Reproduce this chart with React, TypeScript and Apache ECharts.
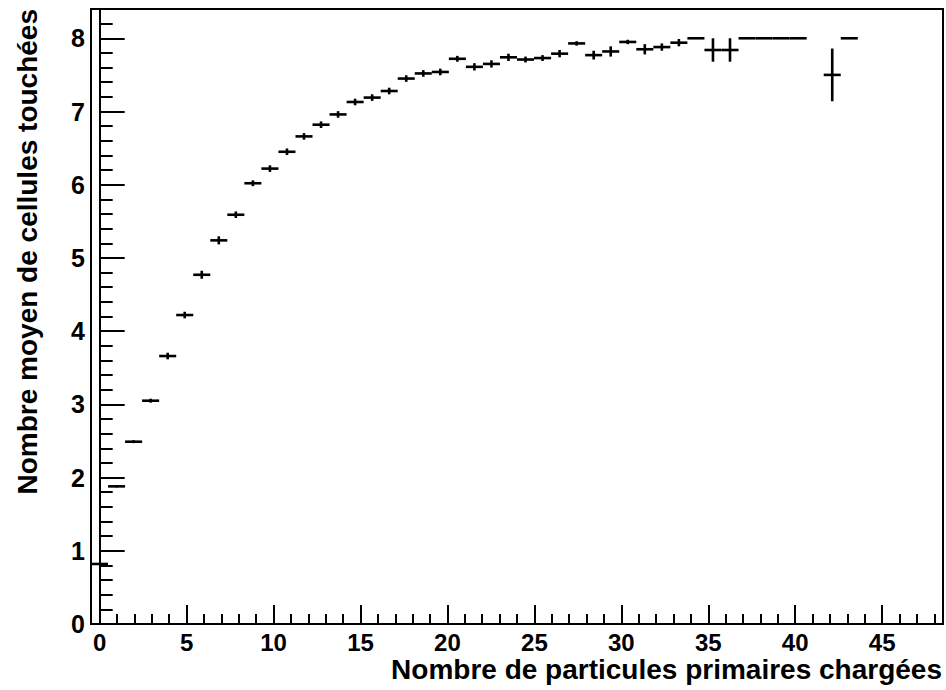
import React, { useEffect, useRef } from "react";
import * as echarts from "echarts";

// Profile histogram definition: 50 bins over [-0.5, 48.5]
const X_LOW = -0.5;
const X_HIGH = 48.5;
const N_BINS = 50;

// Mean number of hit cells per bin (null = empty bin)
const meanHits: (number | null)[] = [
  0.82, 1.88, 2.49, 3.05, 3.66, 4.22, 4.77, 5.24, 5.59, 6.02,
  6.22, 6.45, 6.66, 6.82, 6.96, 7.13, 7.19, 7.28, 7.45, 7.52,
  7.54, 7.72, 7.61, 7.65, 7.74, 7.71, 7.73, 7.79, 7.93, 7.77,
  7.82, 7.95, 7.85, 7.88, 7.94, 8.0, 7.84, 7.84, 8.0, 8.0,
  8.0, 8.0, null, 7.5, 8.0,
];

// Error on the mean per bin
const meanErrors: (number | null)[] = [
  0, 0.015, 0.02, 0.027, 0.045, 0.045, 0.055, 0.055, 0.045, 0.04,
  0.045, 0.045, 0.045, 0.045, 0.045, 0.045, 0.045, 0.045, 0.045, 0.045,
  0.045, 0.04, 0.05, 0.05, 0.05, 0.04, 0.04, 0.05, 0.03, 0.06,
  0.07, 0.03, 0.07, 0.05, 0.05, 0, 0.16, 0.16, 0, 0,
  0, 0, null, 0.36, 0,
];

const xMajorTicks = [0, 5, 10, 15, 20, 25, 30, 35, 40, 45];
const xMinorTicks = [
  1, 2, 3, 4, 6, 7, 8, 9, 11, 12, 13, 14, 16, 17, 18, 19, 21, 22, 23, 24,
  26, 27, 28, 29, 31, 32, 33, 34, 36, 37, 38, 39, 41, 42, 43, 44, 46, 47, 48,
];
const yMajorTicks = [0, 1, 2, 3, 4, 5, 6, 7, 8];
const yMinorTicks = [
  0.2, 0.4, 0.6, 0.8, 1.2, 1.4, 1.6, 1.8, 2.2, 2.4, 2.6, 2.8, 3.2, 3.4, 3.6, 3.8,
  4.2, 4.4, 4.6, 4.8, 5.2, 5.4, 5.6, 5.8, 6.2, 6.4, 6.6, 6.8, 7.2, 7.4, 7.6, 7.8, 8.2,
];

const xTitle = "Nombre de particules primaires chargées";
const yTitle = "Nombre moyen de cellules touchées";

const FONT = "'Liberation Sans', Arial, sans-serif";

export default function App() {
  const ref = useRef<HTMLDivElement>(null);

  useEffect(() => {
    if (!ref.current) return;
    const chart = echarts.init(ref.current, null, { renderer: "svg" });
    const binWidth = (X_HIGH - X_LOW) / N_BINS;
    const data: number[][] = [];
    meanHits.forEach((v, i) => {
      if (v === null) return;
      const center = X_LOW + binWidth * (i + 0.5);
      data.push([center, v, meanErrors[i] ?? 0, binWidth]);
    });

    const labelStyle = {
      fontSize: 24,
      fontWeight: "bold" as const,
      fontFamily: FONT,
      color: "#000",
    };

    chart.setOption({
      animation: false,
      backgroundColor: "#fff",
      grid: {
        left: 91,
        right: 3,
        top: 9,
        bottom: 66,
        show: true,
        borderColor: "#000",
        borderWidth: 2,
        backgroundColor: "transparent",
      },
      xAxis: [
        {
          type: "value",
          min: X_LOW,
          max: X_HIGH,
          axisLine: { show: true, lineStyle: { color: "#000", width: 2 } },
          axisTick: {
            show: true,
            inside: true,
            length: 19,
            customValues: xMajorTicks,
            lineStyle: { color: "#000", width: 2 },
          },
          axisLabel: { ...labelStyle, margin: 6, customValues: xMajorTicks },
          splitLine: { show: false },
        },
        {
          type: "value",
          min: X_LOW,
          max: X_HIGH,
          position: "bottom",
          axisLine: { show: false },
          axisTick: {
            show: true,
            inside: true,
            length: 10,
            customValues: xMinorTicks,
            lineStyle: { color: "#000", width: 2 },
          },
          axisLabel: { show: false },
          splitLine: { show: false },
        },
      ],
      yAxis: [
        {
          type: "value",
          min: 0,
          max: 8.4,
          axisLine: { show: true, lineStyle: { color: "#000", width: 2 } },
          axisTick: {
            show: true,
            inside: true,
            length: 25,
            customValues: yMajorTicks,
            lineStyle: { color: "#000", width: 2 },
          },
          axisLabel: { ...labelStyle, fontSize: 25, margin: 6, customValues: yMajorTicks },
          splitLine: { show: false },
        },
        {
          type: "value",
          min: 0,
          max: 8.4,
          position: "left",
          axisLine: { show: false },
          axisTick: {
            show: true,
            inside: true,
            length: 13,
            customValues: yMinorTicks,
            lineStyle: { color: "#000", width: 2 },
          },
          axisLabel: { show: false },
          splitLine: { show: false },
        },
      ],
      series: [
        {
          type: "custom",
          xAxisIndex: 0,
          yAxisIndex: 0,
          data,
          renderItem: (params: any, api: any) => {
            const x = api.value(0);
            const y = api.value(1);
            const e = api.value(2);
            const w = api.value(3);
            const l = api.coord([x - w / 2, y]);
            const r = api.coord([x + w / 2, y]);
            const children: any[] = [
              {
                type: "line",
                shape: { x1: l[0], y1: l[1], x2: r[0], y2: r[1] },
                style: { stroke: "#000", lineWidth: 2.6 },
              },
            ];
            if (e > 0) {
              const t = api.coord([x, y + e]);
              const b = api.coord([x, y - e]);
              children.push({
                type: "line",
                shape: { x1: t[0], y1: t[1], x2: b[0], y2: b[1] },
                style: { stroke: "#000", lineWidth: 2.6 },
              });
            }
            return { type: "group", children };
          },
        },
      ],
      graphic: [
        {
          type: "text",
          x: 942,
          y: 669,
          style: {
            text: xTitle,
            font: `bold 28px ${FONT}`,
            fill: "#000",
            align: "right",
            verticalAlign: "middle",
          },
        },
        {
          type: "text",
          x: 27,
          y: 9,
          rotation: Math.PI / 2,
          style: {
            text: yTitle,
            font: `bold 28px ${FONT}`,
            fill: "#000",
            align: "right",
            verticalAlign: "middle",
          },
        },
      ],
    });
    return () => chart.dispose();
  }, []);

  return (
    <div
      ref={ref}
      style={{ position: "absolute", left: 0, top: 0, width: 946, height: 690 }}
    />
  );
}
